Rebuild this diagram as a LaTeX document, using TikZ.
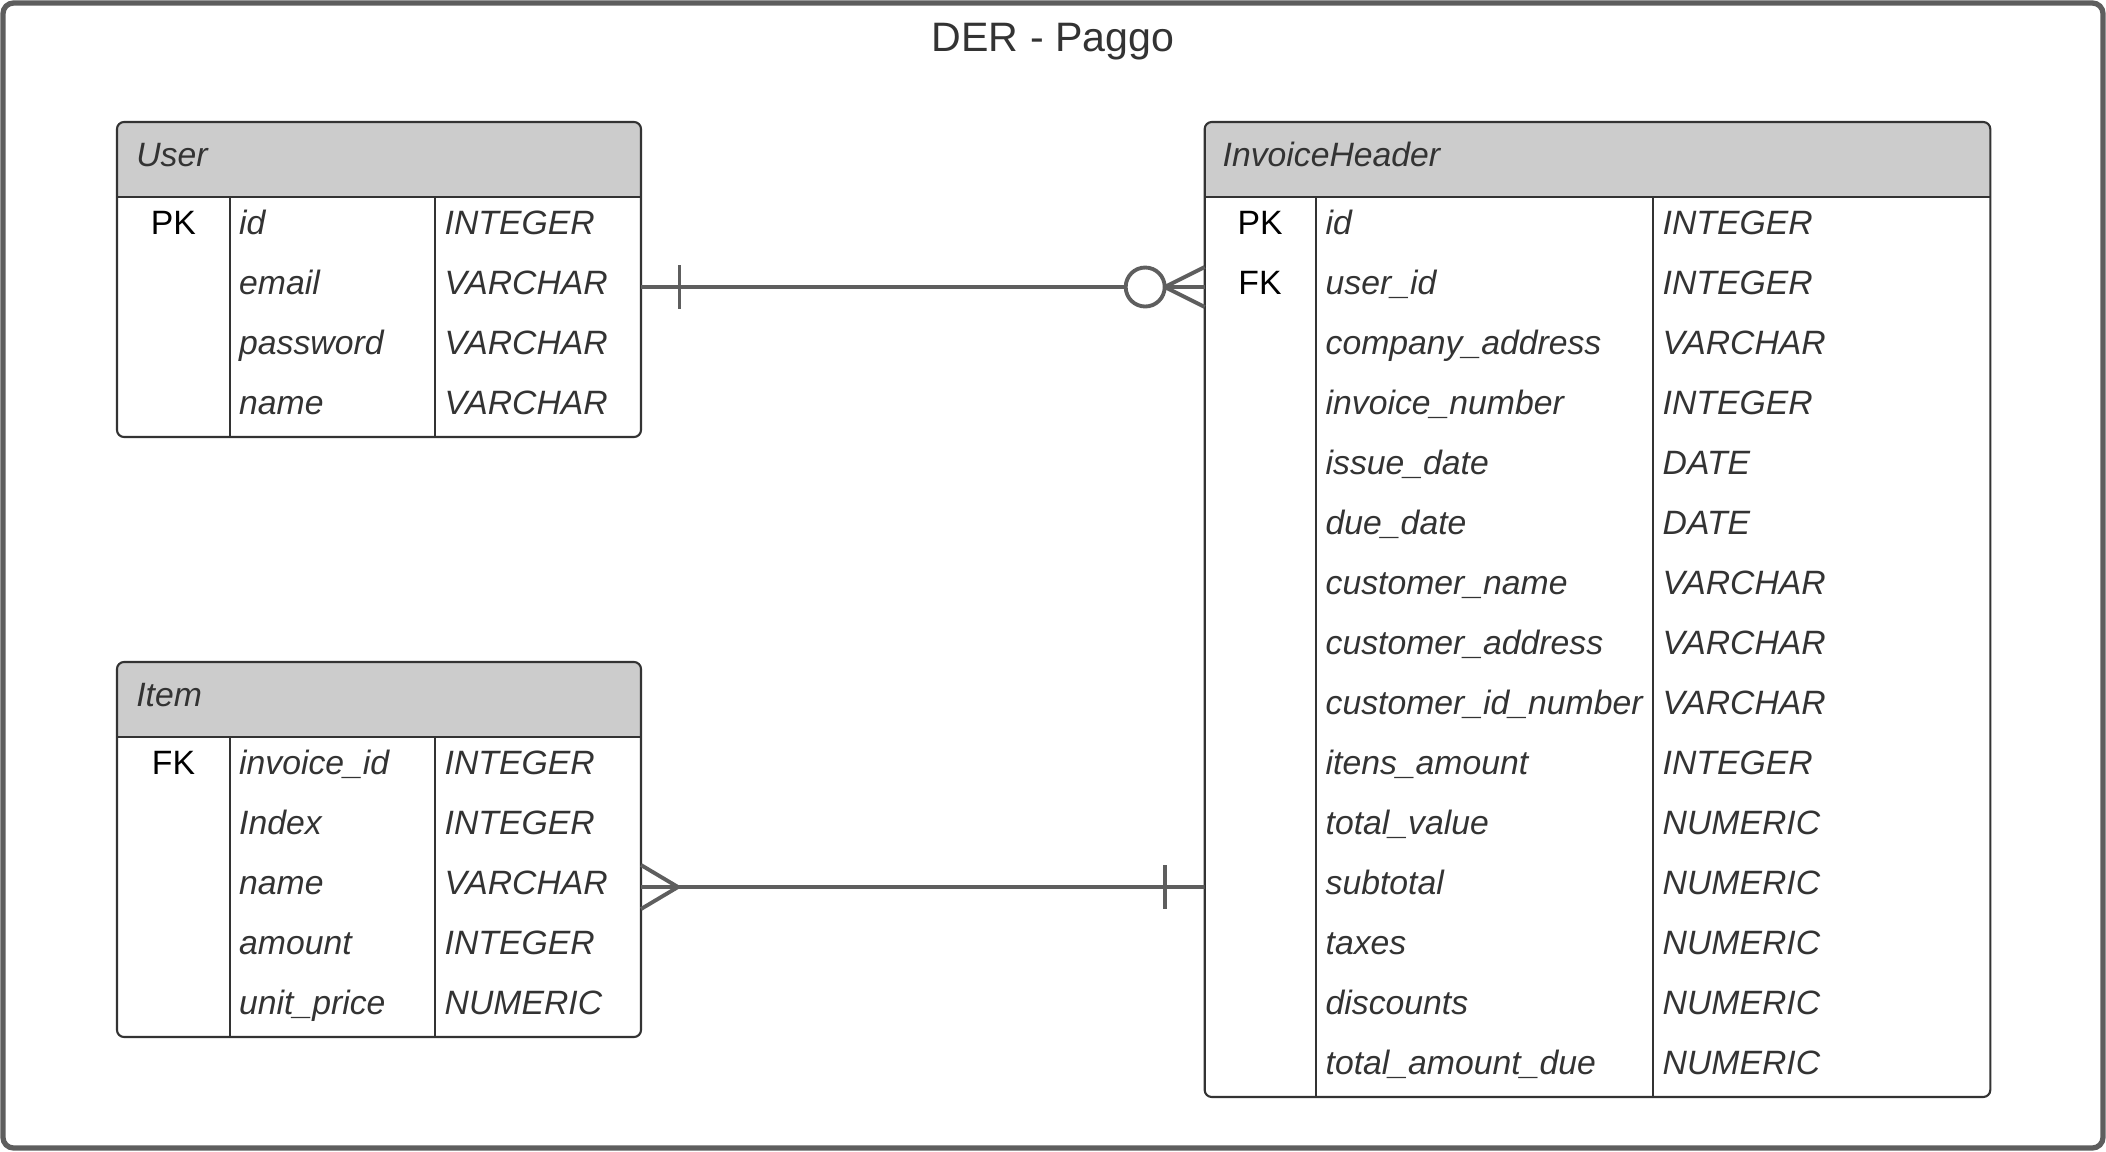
\documentclass[tikz,border=0pt]{standalone}
\usepackage{fontspec}
\setmainfont{Liberation Sans}
\definecolor{tblline}{HTML}{333333}
\definecolor{hdrgray}{HTML}{CCCCCC}
\definecolor{txtgray}{HTML}{333333}
\definecolor{relgray}{HTML}{5E5E5E}

\begin{document}
\begin{tikzpicture}[
    tbl/.style={draw=tblline, line width=0.6pt},
    hdr/.style={fill=hdrgray},
    rowbox/.style={inner sep=0pt, outer sep=0pt, minimum height=0.6cm},
    keytxt/.style={anchor=base, inner sep=0pt, text=black, font=\fontsize{9.6}{11}\selectfont},
    fldtxt/.style={anchor=base west, inner sep=0pt, text=txtgray, font=\fontsize{9.6}{11}\selectfont\itshape},
    rel/.style={draw=relgray, line width=1.1pt},
]
    \useasboundingbox (0,0) rectangle (21.06,-11.51);
    \node[draw=relgray, line width=1.5pt, rounded corners=3pt, inner sep=0pt, outer sep=0pt,
          minimum width=21.0cm, minimum height=11.45cm, anchor=north west] (der) at (0.03,-0.03) {};
    \node[anchor=base, text=txtgray, font=\fontsize{11.7}{14}\selectfont] (title) at (10.53,-0.51) {DER - Paggo};

    % User
    \begin{scope}
        \clip[rounded corners=2pt] (1.17,-1.22) rectangle (6.41,-4.37);
        \fill[hdr] (1.17,-1.22) rectangle (6.41,-1.97);
    \end{scope}
    \draw[tbl, rounded corners=2pt] (1.17,-1.22) rectangle (6.41,-4.37);
    \draw[tbl] (1.17,-1.97) -- (6.41,-1.97) (2.30,-1.97) -- (2.30,-4.37) (4.35,-1.97) -- (4.35,-4.37);
    \node[fldtxt] (user) at (1.356,-1.665) {User};
    \foreach \k/\f/\t [count=\i] in {PK/id/INTEGER, /email/VARCHAR, /password/VARCHAR, /name/VARCHAR} {
        \pgfmathsetmacro{\y}{-1.67-0.6*\i}
        \node[rowbox, minimum width=5.24cm] (user-r\i) at (3.79,\y) {};
        \node[keytxt] (user-k\i) at (1.735,\y-0.075) {\k};
        \node[fldtxt] (user-f\i) at (2.385,\y-0.075) {\f};
        \node[fldtxt] (user-t\i) at (4.44,\y-0.075) {\t};
    }

    % Item
    \begin{scope}
        \clip[rounded corners=2pt] (1.17,-6.62) rectangle (6.41,-10.37);
        \fill[hdr] (1.17,-6.62) rectangle (6.41,-7.37);
    \end{scope}
    \draw[tbl, rounded corners=2pt] (1.17,-6.62) rectangle (6.41,-10.37);
    \draw[tbl] (1.17,-7.37) -- (6.41,-7.37) (2.30,-7.37) -- (2.30,-10.37) (4.35,-7.37) -- (4.35,-10.37);
    \node[fldtxt] (item) at (1.356,-7.065) {Item};
    \foreach \k/\f/\t [count=\i] in {FK/invoice\_id/INTEGER, /Index/INTEGER, /name/VARCHAR,
                                     /amount/INTEGER, /unit\_price/NUMERIC} {
        \pgfmathsetmacro{\y}{-7.07-0.6*\i}
        \node[rowbox, minimum width=5.24cm] (item-r\i) at (3.79,\y) {};
        \node[keytxt] (item-k\i) at (1.735,\y-0.075) {\k};
        \node[fldtxt] (item-f\i) at (2.385,\y-0.075) {\f};
        \node[fldtxt] (item-t\i) at (4.44,\y-0.075) {\t};
    }

    % InvoiceHeader
    \begin{scope}
        \clip[rounded corners=2pt] (12.047,-1.22) rectangle (19.903,-10.97);
        \fill[hdr] (12.047,-1.22) rectangle (19.903,-1.97);
    \end{scope}
    \draw[tbl, rounded corners=2pt] (12.047,-1.22) rectangle (19.903,-10.97);
    \draw[tbl] (12.047,-1.97) -- (19.903,-1.97) (13.16,-1.97) -- (13.16,-10.97) (16.53,-1.97) -- (16.53,-10.97);
    \node[fldtxt] (inv) at (12.22,-1.665) {InvoiceHeader};
    \foreach \k/\f/\t [count=\i] in {PK/id/INTEGER, FK/user\_id/INTEGER, /company\_address/VARCHAR,
                                     /invoice\_number/INTEGER, /issue\_date/DATE, /due\_date/DATE,
                                     /customer\_name/VARCHAR, /customer\_address/VARCHAR,
                                     /customer\_id\_number/VARCHAR, /itens\_amount/INTEGER,
                                     /total\_value/NUMERIC, /subtotal/NUMERIC, /taxes/NUMERIC,
                                     /discounts/NUMERIC, /total\_amount\_due/NUMERIC} {
        \pgfmathsetmacro{\y}{-1.67-0.6*\i}
        \node[rowbox, minimum width=7.856cm] (inv-r\i) at (15.975,\y) {};
        \node[keytxt] (inv-k\i) at (12.60,\y-0.075) {\k};
        \node[fldtxt] (inv-f\i) at (13.25,\y-0.075) {\f};
        \node[fldtxt] (inv-t\i) at (16.62,\y-0.075) {\t};
    }

    % User 1 -- 0..n InvoiceHeader
    \draw[rel] (user-r2.east) -- (inv-r2.west);
    \draw[rel] ([xshift=0.385cm]user-r2.east) +(0,0.22) -- +(0,-0.22);
    \draw[rel] ([yshift=0.2cm]inv-r2.west) -- ([xshift=-0.4cm]inv-r2.west) -- ([yshift=-0.2cm]inv-r2.west);
    \draw[rel, fill=white] ([xshift=-0.595cm]inv-r2.west) circle (0.195);

    % Item 1..n -- 1 InvoiceHeader
    \draw[rel] (item-r3.east) -- (inv-r12.west);
    \draw[rel] ([yshift=0.22cm]item-r3.east) -- ([xshift=0.37cm]item-r3.east) -- ([yshift=-0.22cm]item-r3.east);
    \draw[rel] ([xshift=-0.40cm]inv-r12.west) +(0,0.22) -- +(0,-0.22);
\end{tikzpicture}
\end{document}
